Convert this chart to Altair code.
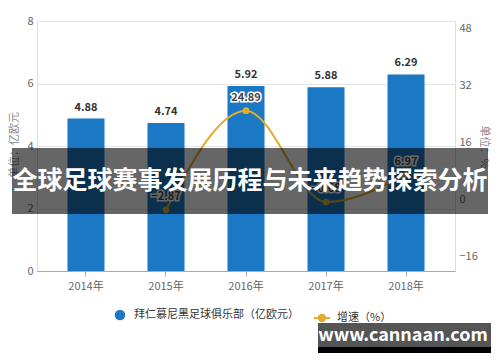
import altair as alt
import pandas as pd

years = ["2014年", "2015年", "2016年", "2017年", "2018年"]
revenue = [4.88, 4.74, 5.92, 5.88, 6.29]
growth = [None, -2.87, 24.89, -0.68, 6.97]
left_ticks = [0, 2, 4, 6, 8]
right_ticks = [-16, 0, 16, 32, 48]
bar_name = "拜仁慕尼黑足球俱乐部（亿欧元）"
line_name = "增速（%）"
title_text = "全球足球赛事发展历程与未来趋势探索分析"
watermark = "www.cannaan.com"
left_title = "单位：亿欧元"
right_title = "单位：%"

BLUE = "#1a78c4"
GOLD = "#e3ac2c"
FONT = "Noto Sans CJK SC"

df = pd.DataFrame({"year": years, "revenue": revenue, "growth": growth})
df["bar"] = bar_name
df["line"] = line_name
df_line = df.dropna(subset=["growth"]).copy()

x_enc = alt.X(
    "year:N", sort=years,
    scale=alt.Scale(paddingInner=0.5375, paddingOuter=0.381),
    axis=alt.Axis(title=None, labelAngle=0, domainColor="#aaa", tickColor="#aaa",
                  tickSize=5, labelColor="#666", labelFontSize=11, labelPadding=4, grid=False),
)

y_left = alt.Y(
    "revenue:Q", scale=alt.Scale(domain=[0, 8]),
    axis=alt.Axis(values=left_ticks, title=None, grid=True, gridColor="#e4e4e4",
                  domain=False, ticks=False, labelPadding=4, labelColor="#666", labelFontSize=11),
)
y_right = alt.Y(
    "growth:Q", scale=alt.Scale(domain=[-16, 48]),
    axis=alt.Axis(orient="right", values=right_ticks, title=None, grid=False,
                  domain=False, ticks=False, labelPadding=4, labelColor="#666", labelFontSize=11),
)

bars = alt.Chart(df).mark_bar().encode(
    x=x_enc, y=y_left,
    fill=alt.Fill("bar:N", scale=alt.Scale(range=[BLUE]),
                  legend=alt.Legend(title=None, orient="none", legendX=77, legendY=288,
                                    symbolType="circle", symbolSize=110, padding=0, labelLimit=300,
                                    labelFontSize=11, labelColor="#333", labelOffset=8)),
)
bar_text = alt.Chart(df).mark_text(dy=-11, fontWeight="bold", fontSize=11, color="#333").encode(
    x=alt.X("year:N", sort=years), y=alt.Y("revenue:Q"), text=alt.Text("revenue:Q", format=".2f")
)
left_layer = alt.layer(bars, bar_text)

line = alt.Chart(df_line).mark_line(interpolate="monotone", strokeWidth=2).encode(
    x=alt.X("year:N", sort=years), y=y_right,
    stroke=alt.Stroke("line:N", scale=alt.Scale(range=[GOLD]),
                      legend=alt.Legend(title=None, orient="none", legendX=276, legendY=288,
                                        symbolType="M-1,0L-0.4,0M0.4,0L1,0M0.4,0A0.4,0.4,0,1,1,-0.4,0A0.4,0.4,0,1,1,0.4,0",
                                        symbolSize=256, symbolStrokeWidth=2, symbolFillColor=GOLD,
                                        padding=0, labelLimit=200, labelFontSize=11, labelColor="#333",
                                        labelOffset=6)),
)
points = alt.Chart(df_line).mark_point(filled=True, size=45, opacity=1, color=GOLD).encode(
    x=alt.X("year:N", sort=years), y=alt.Y("growth:Q")
)
line_halo = alt.Chart(df_line).mark_text(dy=-13, fontWeight="bold", fontSize=11, color="white",
                                         stroke="white", strokeWidth=3).encode(
    x=alt.X("year:N", sort=years), y=alt.Y("growth:Q"), text=alt.Text("growth:Q", format=".2f")
)
line_text = alt.Chart(df_line).mark_text(dy=-13, fontWeight="bold", fontSize=11, color="#444").encode(
    x=alt.X("year:N", sort=years), y=alt.Y("growth:Q"), text=alt.Text("growth:Q", format=".2f")
)
right_layer = alt.layer(line, points, line_halo, line_text)

one = alt.Data(values=[{}])
left_t = alt.Chart(one).mark_text(text=left_title, angle=270, fontSize=11, color="#888").encode(
    x=alt.value(-22), y=alt.value(124))
right_t = alt.Chart(one).mark_text(text=right_title, angle=90, fontSize=11, color="#888").encode(
    x=alt.value(447), y=alt.value(126))

banner = alt.Chart(one).mark_rect(color="black", opacity=0.6).encode(
    x=alt.value(-25), x2=alt.value(451), y=alt.value(127), y2=alt.value(193))
banner_text = alt.Chart(one).mark_text(text=title_text, fontSize=25, fontWeight="bold", color="white").encode(
    x=alt.value(213), y=alt.value(160))
wm_box = alt.Chart(one).mark_rect(color="#555").encode(
    x=alt.value(281), x2=alt.value(454), y=alt.value(302), y2=alt.value(326))
wm_strip = alt.Chart(one).mark_rect(color="black").encode(
    x=alt.value(281), x2=alt.value(454), y=alt.value(326), y2=alt.value(332))
wm_text = alt.Chart(one).mark_text(text=watermark, fontSize=18, fontWeight="bold", color="white").encode(
    x=alt.value(366), y=alt.value(315))

chart = alt.layer(
    left_layer, right_layer, left_t, right_t, banner, banner_text, wm_box, wm_strip, wm_text
).resolve_scale(y="independent").properties(
    width=418, height=250,
    autosize=alt.AutoSizeParams(type="none"),
    padding={"left": 29, "top": 13, "right": 37, "bottom": 85},
).configure_view(stroke=None).configure(font=FONT)

chart.save("out.html", embed_options={"renderer": "svg", "actions": False})
